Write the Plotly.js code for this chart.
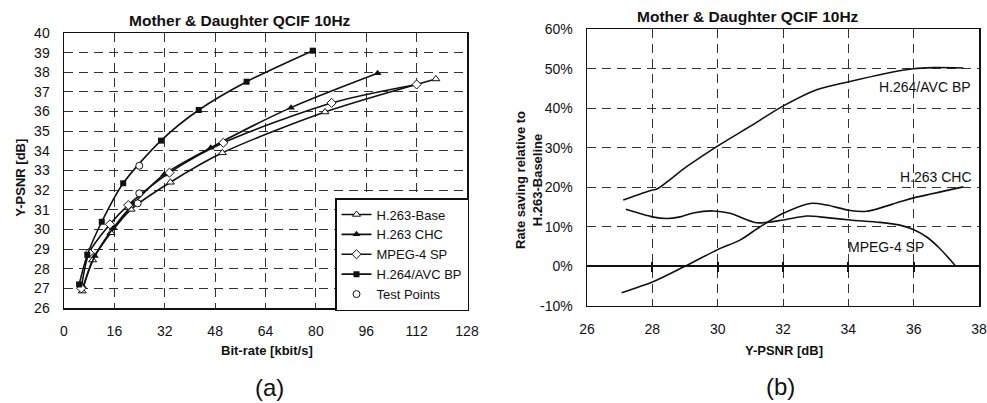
<!DOCTYPE html>
<html>
<head>
<meta charset="utf-8">
<script src="https://cdn.plot.ly/plotly-3.0.1.min.js"></script>
<style>html,body{margin:0;padding:0;background:#fff;}#chart{width:987px;height:403px;}</style>
</head>
<body>
<div id="chart"></div>
<script>
// ---- Panel (a): Y-PSNR vs bit-rate ----
const baseX = [5.8, 9.1, 14.9, 21.3, 33.8, 50.3, 82.9, 118.1];
const baseY = [26.86, 28.44, 29.83, 31.02, 32.4, 33.9, 35.98, 37.66];
const chcX = [6.1, 9.8, 15.7, 22.0, 31.8, 46.6, 72.1, 99.6];
const chcY = [27.08, 28.65, 30.09, 31.29, 32.8, 34.16, 36.2, 37.95];
const mpegX = [5.5, 8.0, 14.6, 20.4, 33.5, 50.6, 85.0, 112.0];
const mpegY = [27.0, 28.81, 30.26, 31.24, 32.89, 34.41, 36.44, 37.38];
const avcX = [4.8, 7.4, 12.0, 18.8, 30.8, 42.8, 58.0, 79.0];
const avcY = [27.2, 28.7, 30.39, 32.35, 34.52, 36.08, 37.52, 39.1];
const testX = [23.9, 23.9, 23.4];
const testY = [33.24, 31.84, 31.33];
const seriesNames = ["H.263-Base", "H.263 CHC", "MPEG-4 SP", "H.264/AVC BP", "Test Points"];
const aXTicks = [0, 16, 32, 48, 64, 80, 96, 112, 128];
const aYTicks = [26, 27, 28, 29, 30, 31, 32, 33, 34, 35, 36, 37, 38, 39, 40];

// ---- Panel (b): rate saving relative to H.263-Baseline ----
const bAvcX = [27.11, 28.0, 28.13, 29.05, 29.97, 30.99, 32.01, 33.03, 34.05, 35.07, 35.99, 36.6, 37.52];
const bAvcY = [16.75, 19.3, 19.5, 25.2, 30.3, 35.4, 40.6, 44.7, 46.8, 48.7, 50.0, 50.3, 50.2];
const bChcX = [27.06, 28.0, 28.95, 30.0, 30.68, 31.3, 32.01, 32.83, 33.34, 34.05, 34.56, 35.58, 36.0, 37.52];
const bChcY = [-6.7, -4.0, -0.2, 4.2, 6.6, 10.0, 13.4, 15.9, 15.5, 14.1, 13.9, 16.3, 17.3, 20.1];
const bMpegX = [27.19, 28.0, 28.44, 28.85, 29.25, 29.87, 30.38, 31.19, 32.01, 32.73, 33.34, 34.05, 34.97, 35.58, 35.99, 36.4, 36.8, 37.27];
const bMpegY = [14.4, 12.5, 12.1, 12.5, 13.5, 14.0, 13.4, 11.0, 11.7, 12.7, 12.3, 11.7, 11.1, 10.4, 9.3, 7.4, 4.5, 0.2];
const bXTicks = [26, 28, 30, 32, 34, 36, 38];
const bYTicks = [-10, 0, 10, 20, 30, 40, 50, 60];
const bYTickText = ["-10%", "0%", "10%", "20%", "30%", "40%", "50%", "60%"];
const bCrossTicks = [28, 30, 32, 34, 36];

const W = 987, H = 403;
const px = v => v / W;
const py = v => 1 - v / H;

const lineStyle = {color: '#111', width: 1.6, shape: 'spline', smoothing: 0.8};
const traces = [
  {x: baseX, y: baseY, name: seriesNames[0], mode: 'lines+markers', line: lineStyle,
   marker: {symbol: 'triangle-up', size: 7, color: 'white', line: {color: '#111', width: 1}}, xaxis: 'x', yaxis: 'y'},
  {x: chcX, y: chcY, name: seriesNames[1], mode: 'lines+markers', line: lineStyle,
   marker: {symbol: 'triangle-up', size: 7, color: '#111'}, xaxis: 'x', yaxis: 'y'},
  {x: mpegX, y: mpegY, name: seriesNames[2], mode: 'lines+markers', line: lineStyle,
   marker: {symbol: 'diamond', size: 7, color: 'white', line: {color: '#111', width: 1}}, xaxis: 'x', yaxis: 'y'},
  {x: avcX, y: avcY, name: seriesNames[3], mode: 'lines+markers', line: lineStyle,
   marker: {symbol: 'square', size: 6, color: '#111'}, xaxis: 'x', yaxis: 'y'},
  {x: testX, y: testY, name: seriesNames[4], mode: 'markers',
   marker: {symbol: 'circle', size: 7, color: 'white', line: {color: '#111', width: 1}}, xaxis: 'x', yaxis: 'y'},
  {x: bAvcX, y: bAvcY, mode: 'lines', line: lineStyle, showlegend: false, xaxis: 'x2', yaxis: 'y2'},
  {x: bChcX, y: bChcY, mode: 'lines', line: lineStyle, showlegend: false, xaxis: 'x2', yaxis: 'y2'},
  {x: bMpegX, y: bMpegY, mode: 'lines', line: lineStyle, showlegend: false, xaxis: 'x2', yaxis: 'y2'},
  {x: [], y: [], mode: 'lines', showlegend: false, hoverinfo: 'skip', xaxis: 'x3', yaxis: 'y2'}
];

const font = {family: 'Liberation Sans, Arial, sans-serif', size: 14, color: '#111'};
const gridCommon = {showgrid: true, gridcolor: '#333', gridwidth: 1, griddash: '9px,6px',
  showline: true, mirror: true, linecolor: '#111', linewidth: 1.5, zeroline: false, ticks: '',
  tickfont: {size: 14, color: '#111'}};

const layout = {
  width: W, height: H,
  margin: {l: 0, r: 0, t: 0, b: 0},
  paper_bgcolor: 'white', plot_bgcolor: 'white',
  font: font,
  showlegend: true,
  legend: {x: px(335), y: py(198), xanchor: 'left', yanchor: 'top', bgcolor: 'white',
    bordercolor: '#111', borderwidth: 1.5, font: {size: 13, color: '#111'}, itemwidth: 30,
    tracegroupgap: 0},
  xaxis: Object.assign({}, gridCommon, {domain: [px(64), px(467)], range: [0, 128],
    tickvals: aXTicks, ticklabelstandoff: 10, anchor: 'y'}),
  yaxis: Object.assign({}, gridCommon, {domain: [py(308), py(33)], range: [26, 40],
    tickvals: aYTicks, ticklabelstandoff: 10, anchor: 'x'}),
  xaxis2: Object.assign({}, gridCommon, {domain: [px(587), px(979)], range: [26, 38],
    tickvals: bXTicks, ticklabelstandoff: 10, anchor: 'y2'}),
  yaxis2: Object.assign({}, gridCommon, {domain: [py(305.7), py(29.3)], range: [-10, 60],
    tickvals: bYTicks, ticktext: bYTickText, ticklabelstandoff: 10, anchor: 'x2',
    zeroline: true, zerolinecolor: '#111', zerolinewidth: 1.5}),
  xaxis3: {overlaying: 'x2', anchor: 'free', position: py(261), range: [26, 38],
    tickvals: bCrossTicks, ticks: 'outside', ticklen: 10, tickwidth: 2, tickcolor: '#111',
    showticklabels: false, showgrid: false, showline: false, zeroline: false},
  annotations: [
    {text: '<b>Mother &amp; Daughter QCIF 10Hz</b>', x: px(239.5), y: py(20), xref: 'paper', yref: 'paper',
     showarrow: false, xanchor: 'center', yanchor: 'middle', font: {size: 15.5, color: '#111'}},
    {text: '<b>Mother &amp; Daughter QCIF 10Hz</b>', x: px(747.5), y: py(16.7), xref: 'paper', yref: 'paper',
     showarrow: false, xanchor: 'center', yanchor: 'middle', font: {size: 15.5, color: '#111'}},
    {text: '<b>Bit-rate [kbit/s]</b>', x: px(266.7), y: py(350), xref: 'paper', yref: 'paper',
     showarrow: false, xanchor: 'center', yanchor: 'middle', font: {size: 13, color: '#111'}},
    {text: '<b>Y-PSNR [dB]</b>', x: px(784), y: py(350), xref: 'paper', yref: 'paper',
     showarrow: false, xanchor: 'center', yanchor: 'middle', font: {size: 13, color: '#111'}},
    {text: '<b>Y-PSNR [dB]</b>', x: px(20.7), y: py(178), xref: 'paper', yref: 'paper', textangle: -90,
     showarrow: false, xanchor: 'center', yanchor: 'middle', font: {size: 13, color: '#111'}},
    {text: '<b>Rate saving relative to<br>H.263-Baseline</b>', x: px(529), y: py(180), xref: 'paper', yref: 'paper', textangle: -90,
     showarrow: false, xanchor: 'center', yanchor: 'middle', font: {size: 13, color: '#111'}},
    {text: '(a)', x: px(269), y: py(387), xref: 'paper', yref: 'paper',
     showarrow: false, xanchor: 'center', yanchor: 'middle', font: {size: 24, color: '#111'}},
    {text: '(b)', x: px(780), y: py(386.7), xref: 'paper', yref: 'paper',
     showarrow: false, xanchor: 'center', yanchor: 'middle', font: {size: 24, color: '#111'}},
    {text: 'H.264/AVC BP', x: 36.35, y: 45.5, xref: 'x2', yref: 'y2', showarrow: false,
     xanchor: 'center', yanchor: 'middle', font: {size: 14, color: '#111'}},
    {text: 'H.263 CHC', x: 36.68, y: 22.7, xref: 'x2', yref: 'y2', showarrow: false,
     xanchor: 'center', yanchor: 'middle', font: {size: 14, color: '#111'}},
    {text: 'MPEG-4 SP', x: 35.14, y: 4.9, xref: 'x2', yref: 'y2', showarrow: false,
     xanchor: 'center', yanchor: 'middle', font: {size: 14, color: '#111'}}
  ]
};

Plotly.newPlot('chart', traces, layout, {staticPlot: true, displayModeBar: false});
</script>
</body>
</html>
